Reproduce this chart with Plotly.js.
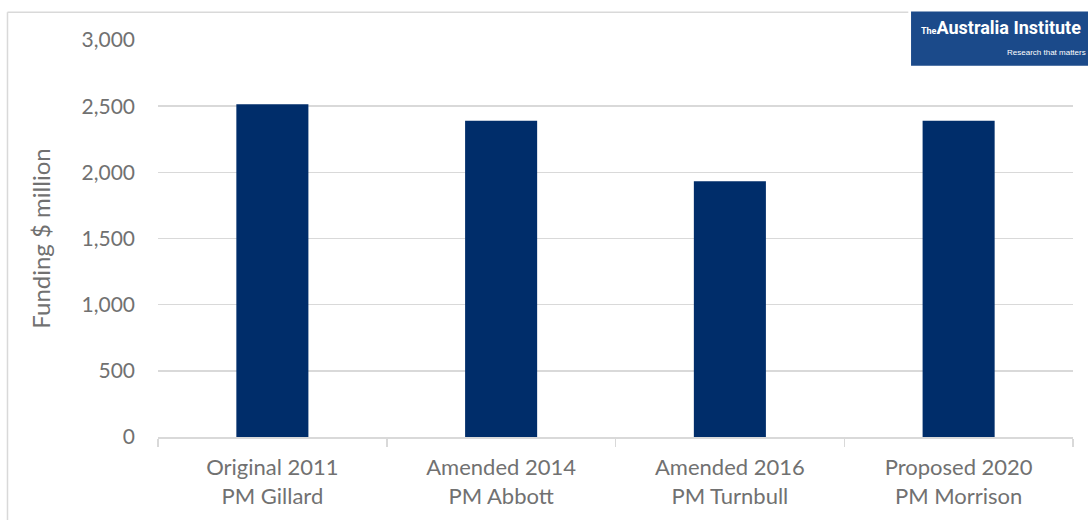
<!DOCTYPE html>
<html>
<head>
<meta charset="utf-8">
<script src="https://cdn.plot.ly/plotly-3.0.1.min.js"></script>
<style>
html,body{margin:0;padding:0;background:#fff;}
#chart{width:1088px;height:520px;}
</style>
</head>
<body>
<div id="chart"></div>
<script>
const categories = ["Original 2011<br>PM Gillard", "Amended 2014<br>PM Abbott", "Amended 2016<br>PM Turnbull", "Proposed 2020<br>PM Morrison"];
const funding = [2515, 2390, 1932, 2390];
const yTickVals = [0, 500, 1000, 1500, 2000, 2500, 3000];
const yTickText = ["0", "500", "1,000", "1,500", "2,000", "2,500", "3,000"];

const font = "Lato, 'Open Sans', sans-serif";
const trace = {
  type: "bar",
  x: categories,
  y: funding,
  width: 0.315,
  marker: {color: "#002d6a", line: {width: 0}},
  hoverinfo: "none"
};
const layout = {
  width: 1088, height: 520,
  margin: {l: 158, r: 15, t: 40, b: 83},
  paper_bgcolor: "#ffffff",
  plot_bgcolor: "#ffffff",
  showlegend: false,
  font: {family: font, color: "#717171", size: 21},
  xaxis: {
    type: "category",
    tickson: "boundaries",
    ticks: "outside", ticklen: 8, tickcolor: "#d9d9d9", tickwidth: 1.5,
    showline: true, linecolor: "#d9d9d9", linewidth: 1.5,
    showgrid: false,
    ticklabelstandoff: 10,
    tickfont: {family: font, size: 22, color: "#717171"},
    fixedrange: true
  },
  yaxis: {
    range: [0, 3000],
    tickvals: yTickVals, ticktext: yTickText,
    showgrid: true, gridcolor: "#d9d9d9", gridwidth: 1.5,
    zeroline: false, showline: false,
    ticks: "", ticklabelstandoff: 22,
    tickfont: {family: font, size: 21, color: "#717171"},
    title: {text: "Funding $ million", font: {family: font, size: 24, color: "#717171"}, standoff: 24},
    fixedrange: true
  },
  shapes: [
    {type: "line", xref: "paper", yref: "paper", x0: -0.1645, x1: -0.1645, y0: -0.3, y1: 1.07, line: {color: "#d9d9d9", width: 1.5}},
    {type: "line", xref: "paper", yref: "paper", x0: -0.1645, x1: 0.82, y0: 1.07, y1: 1.07, line: {color: "#d9d9d9", width: 1.5}},
    {type: "rect", xref: "paper", yref: "paper", x0: 0.823, x1: 1.02, y0: 0.935, y1: 1.072, fillcolor: "#1b4a8a", line: {width: 0}}
  ],
  annotations: [
    {xref: "paper", yref: "paper", x: 0.832, y: 1.062, xanchor: "left", yanchor: "top", showarrow: false,
     text: "<span style='font-size:9px'>The</span>Australia Institute", font: {family: "'Liberation Sans Narrow', 'Roboto', sans-serif", size: 18, color: "#ffffff", weight: 700}},
    {xref: "paper", yref: "paper", x: 1.016, y: 0.985, xanchor: "right", yanchor: "top", showarrow: false,
     text: "Research that matters", font: {family: "'Liberation Sans Narrow', sans-serif", size: 8, color: "#ffffff"}}
  ]
};
Plotly.newPlot("chart", [trace], layout, {displayModeBar: false, staticPlot: true});
</script>
</body>
</html>
